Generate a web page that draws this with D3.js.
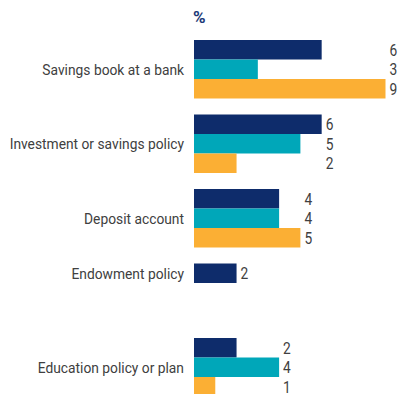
<!DOCTYPE html>
<html>
<head>
<meta charset="utf-8">
<script src="https://cdn.jsdelivr.net/npm/d3@7"></script>
<style>
  html, body { margin: 0; padding: 0; background: #fff; }
  svg { display: block; }
  .cat { font-family: "Roboto", "Liberation Sans", sans-serif; font-size: 15px; fill: #404040; }
  .val { font-family: "Roboto", "Liberation Sans", sans-serif; font-size: 16px; fill: #404040; }
  .unit { font-family: "Roboto", "Liberation Sans", sans-serif; font-size: 17px; font-weight: bold; fill: #1b3a78; }
</style>
</head>
<body>
<svg id="chart" width="399" height="394"></svg>
<script>
// Products held, per cent of respondents, three survey groups
const categories = [
  "Savings book at a bank",
  "Investment or savings policy",
  "Deposit account",
  "Endowment policy",
  "Education policy or plan"
];
const seriesNames = ["Series A", "Series B", "Series C"];
const seriesA = [6, 6, 4, 2, 2];
const seriesB = [3, 5, 4, null, 4];
const seriesC = [9, 2, 5, null, 1];
const colors = ["#0e2c6b", "#00a7b9", "#fbaf34"];
const unitLabel = "%";

const values = [seriesA, seriesB, seriesC];
const rows = categories.map((c, i) => ({
  category: c,
  bars: seriesNames.map((s, j) => ({ series: s, value: values[j][i], color: colors[j] }))
}));

// narrow lettering for the labels
const condenseCat = 0.92;
const condenseVal = 0.86;

const svg = d3.select("#chart");

const x = d3.scaleLinear().domain([0, 9]).range([194, 385.5]);

const y = d3.scaleBand()
  .domain(categories)
  .range([40, 396.5])
  .paddingInner(0.2148)
  .paddingOuter(0);

const ySub = d3.scaleBand()
  .domain(seriesNames)
  .range([0, y.bandwidth()])
  .padding(0);

svg.append("text")
  .attr("class", "unit")
  .attr("x", x(0) - 1)
  .attr("y", 23)
  .text(unitLabel);

const groups = svg.selectAll("g.group")
  .data(rows)
  .join("g")
  .attr("class", "group")
  .attr("transform", d => `translate(0,${y(d.category)})`);

groups.selectAll("rect")
  .data(d => d.bars.filter(b => b.value != null))
  .join("rect")
  .attr("x", x(0))
  .attr("y", b => ySub(b.series))
  .attr("width", b => x(b.value) - x(0))
  .attr("height", ySub.bandwidth())
  .attr("fill", b => b.color);

// value labels line up just past the longest bar of each group
groups.each(function(d) {
  const present = d.bars.filter(b => b.value != null);
  const maxV = d3.max(present, b => b.value);
  const g = d3.select(this);
  g.selectAll("text.val")
    .data(present)
    .join("text")
    .attr("class", "val")
    .attr("transform", b => `translate(${x(maxV) + 4},${ySub(b.series) + ySub.bandwidth() / 2}) scale(${condenseVal},1)`)
    .attr("dy", "0.36em")
    .text(b => b.value);

  const top = d3.min(present, b => ySub(b.series));
  const bottom = d3.max(present, b => ySub(b.series) + ySub.bandwidth());
  g.append("text")
    .attr("class", "cat")
    .attr("transform", `translate(${x(0) - 10},${(top + bottom) / 2}) scale(${condenseCat},1)`)
    .attr("dy", "0.36em")
    .attr("text-anchor", "end")
    .text(d.category);
});
</script>
</body>
</html>
